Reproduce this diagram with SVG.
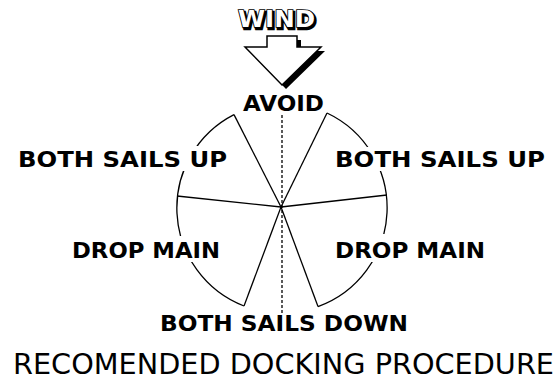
<svg xmlns="http://www.w3.org/2000/svg" width="559" height="385" viewBox="0 0 559 385">
<style>
.ln{stroke:#000;stroke-width:1.3;fill:none}
.dash{stroke:#000;stroke-width:1.3;stroke-dasharray:3 2;fill:none}
.lbl{font-family:"DejaVu Sans","Liberation Sans",sans-serif;font-weight:bold;font-size:21px;fill:#000}
.bg{fill:#fff}
.title{font-family:"DejaVu Sans","Liberation Sans",sans-serif;font-size:29px;fill:#000}
.wind{font-family:"DejaVu Sans","Liberation Sans",sans-serif;font-weight:bold;font-size:23px}
</style>
<rect width="559" height="385" fill="#fff"/>
<g id="connectors">
<path class="ln" d="M327,113 A105,105 0 0 1 318,306.6"/>
<path class="ln" d="M244,306 A105,105 0 0 1 234,114.6"/>
<line class="ln" x1="281" y1="207" x2="234" y2="114.6"/>
<line class="ln" x1="281" y1="207" x2="327" y2="113"/>
<line class="ln" x1="281" y1="207" x2="177" y2="196"/>
<line class="ln" x1="281" y1="207" x2="387" y2="195"/>
<line class="ln" x1="281" y1="207" x2="244" y2="306"/>
<line class="ln" x1="281" y1="207" x2="318" y2="306.6"/>
<line class="dash" x1="282" y1="115" x2="282" y2="313"/>
</g>
<g id="wind">
<polygon points="271,40 301,40 301,51 325,51 286,89 249,51 271,51" fill="#000"/>
<polygon points="267,36 297,36 297,47 321,47 282,85 245,47 267,47" fill="#fff" stroke="#000" stroke-width="1.5" stroke-linejoin="miter"/>
<text class="wind" x="239.5" y="28.5" textLength="77" lengthAdjust="spacingAndGlyphs" fill="#000" stroke="#000" stroke-width="2.5">WIND</text>
<text class="wind" x="238" y="27" textLength="77" lengthAdjust="spacingAndGlyphs" fill="#fff" stroke="#000" stroke-width="1.6" paint-order="stroke">WIND</text>
</g>
<g id="avoid">
<text class="lbl" x="243" y="111" textLength="81" lengthAdjust="spacingAndGlyphs">AVOID</text>
</g>
<g id="both-up-left">
<rect class="bg" x="16" y="146" width="213" height="25"/>
<text class="lbl" x="18" y="167" textLength="209" lengthAdjust="spacingAndGlyphs">BOTH SAILS UP</text>
</g>
<g id="both-up-right">
<rect class="bg" x="333" y="147" width="214" height="24"/>
<text class="lbl" x="335" y="167" textLength="210" lengthAdjust="spacingAndGlyphs">BOTH SAILS UP</text>
</g>
<g id="drop-left">
<rect class="bg" x="70" y="236" width="152" height="26"/>
<text class="lbl" x="72" y="258" textLength="148" lengthAdjust="spacingAndGlyphs">DROP MAIN</text>
</g>
<g id="drop-right">
<rect class="bg" x="333" y="234" width="154" height="28"/>
<text class="lbl" x="335" y="258" textLength="150" lengthAdjust="spacingAndGlyphs">DROP MAIN</text>
</g>
<g id="both-down">
<text class="lbl" x="160" y="331" textLength="248" lengthAdjust="spacingAndGlyphs">BOTH SAILS DOWN</text>
</g>
<g id="title">
<text class="title" x="13" y="374" textLength="541" lengthAdjust="spacingAndGlyphs">RECOMENDED DOCKING PROCEDURE</text>
</g>
</svg>
